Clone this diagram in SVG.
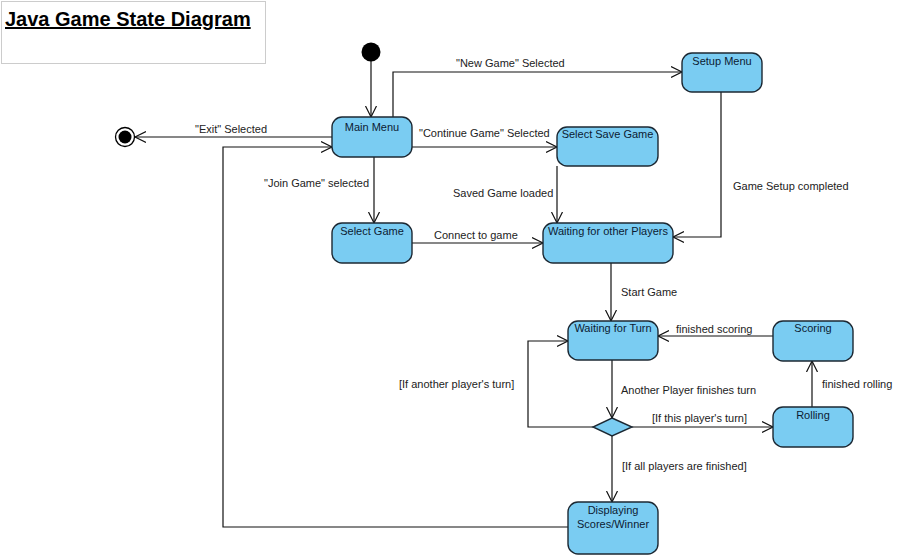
<svg xmlns="http://www.w3.org/2000/svg" width="907" height="558" viewBox="0 0 907 558">
<style>
.node{fill:#7ACCF2;stroke:#1c2833;stroke-width:1.4}
.nt{font-family:"Liberation Sans",Arial,sans-serif;font-size:11px;fill:#0c1b33;text-anchor:middle}
.lt{font-family:"Liberation Sans",Arial,sans-serif;font-size:11px;fill:#222}
.c{fill:none;stroke:#111;stroke-width:1.2}
</style>
<defs>
<marker id="arr" markerUnits="userSpaceOnUse" markerWidth="14" markerHeight="14" refX="11" refY="6" orient="auto" viewBox="0 0 14 12">
<path d="M0,0.5 L11,6 L0,11.5" fill="none" stroke="#111" stroke-width="1.2"/>
</marker>
</defs>
<rect width="907" height="558" fill="#fff"/>
<g id="title">
<rect x="1.5" y="1.5" width="264" height="62" fill="none" stroke="#ccc" stroke-width="1"/>
<text x="5" y="26" font-family="Liberation Sans,Arial,sans-serif" font-size="20" font-weight="bold" text-decoration="underline" fill="#000">Java Game State Diagram</text>
</g>
<g id="connectors">
<path class="c" d="M371,61 V117" marker-end="url(#arr)"/>
<path class="c" d="M332,137 H135" marker-end="url(#arr)"/>
<path class="c" d="M568,527 H223 V147 H332" marker-end="url(#arr)"/>
<path class="c" d="M393,117 V72 H682" marker-end="url(#arr)"/>
<path class="c" d="M412,147 H557" marker-end="url(#arr)"/>
<path class="c" d="M374,157 V223" marker-end="url(#arr)"/>
<path class="c" d="M412,243 H543" marker-end="url(#arr)"/>
<path class="c" d="M557,166 V223" marker-end="url(#arr)"/>
<path class="c" d="M721,92 V237 H673" marker-end="url(#arr)"/>
<path class="c" d="M611,263 V321" marker-end="url(#arr)"/>
<path class="c" d="M612,360 V418" marker-end="url(#arr)"/>
<path class="c" d="M593,427 H528 V341 H568" marker-end="url(#arr)"/>
<path class="c" d="M632,427 H773" marker-end="url(#arr)"/>
<path class="c" d="M812,407 V361" marker-end="url(#arr)"/>
<path class="c" d="M773,336 H658" marker-end="url(#arr)"/>
<path class="c" d="M612,436 V502" marker-end="url(#arr)"/>
<text class="lt" x="195" y="133">"Exit" Selected</text>
<text class="lt" x="456" y="67">"New Game" Selected</text>
<text class="lt" x="419" y="137">"Continue Game" Selected</text>
<text class="lt" x="264" y="187">"Join Game" selected</text>
<text class="lt" x="453" y="197">Saved Game loaded</text>
<text class="lt" x="434" y="239">Connect to game</text>
<text class="lt" x="733" y="190">Game Setup completed</text>
<text class="lt" x="621" y="296">Start Game</text>
<text class="lt" x="676" y="333">finished scoring</text>
<text class="lt" x="621" y="394">Another Player finishes turn</text>
<text class="lt" x="399" y="388">[If another player's turn]</text>
<text class="lt" x="652" y="422">[If this player's turn]</text>
<text class="lt" x="822" y="388">finished rolling</text>
<text class="lt" x="622" y="470">[If all players are finished]</text>
</g>
<g id="initial"><circle cx="371" cy="52" r="9.5" fill="#000"/></g>
<g id="final"><circle cx="125" cy="137" r="9.5" fill="#fff" stroke="#000" stroke-width="1.3"/><circle cx="125" cy="137" r="6.5" fill="#000"/></g>
<g id="mainMenu"><rect class="node" x="332" y="117" width="80" height="40" rx="10"/><text class="nt" x="372" y="131">Main Menu</text></g>
<g id="setupMenu"><rect class="node" x="682" y="53" width="80" height="39" rx="10"/><text class="nt" x="722" y="65">Setup Menu</text></g>
<g id="selectSaveGame"><rect class="node" x="557" y="127" width="101" height="39" rx="10"/><text class="nt" x="607.5" y="138">Select Save Game</text></g>
<g id="selectGame"><rect class="node" x="332" y="223" width="80" height="40" rx="10"/><text class="nt" x="372" y="235">Select Game</text></g>
<g id="waitingPlayers"><rect class="node" x="543" y="223" width="130" height="40" rx="10"/><text class="nt" x="608" y="235">Waiting for other Players</text></g>
<g id="waitingTurn"><rect class="node" x="568" y="321" width="90" height="39" rx="10"/><text class="nt" x="613" y="332">Waiting for Turn</text></g>
<g id="scoring"><rect class="node" x="773" y="321" width="80" height="40" rx="10"/><text class="nt" x="813" y="332">Scoring</text></g>
<g id="rolling"><rect class="node" x="773" y="407" width="80" height="40" rx="10"/><text class="nt" x="813" y="419">Rolling</text></g>
<g id="decision"><path class="node" d="M612,418 L632,427 L612,436 L593,427 Z"/></g>
<g id="displaying"><rect class="node" x="568" y="502" width="90" height="52" rx="10"/><text class="nt" x="613" y="514">Displaying</text><text class="nt" x="613" y="528">Scores/Winner</text></g>
</svg>
